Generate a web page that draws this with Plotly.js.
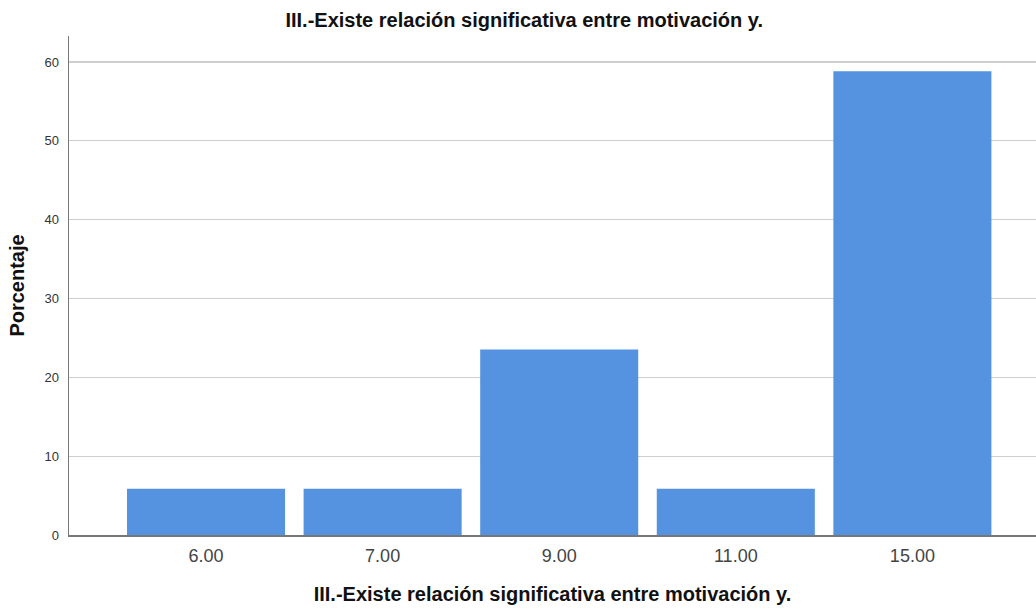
<!DOCTYPE html>
<html>
<head>
<meta charset="utf-8">
<script src="https://cdn.plot.ly/plotly-3.0.1.min.js"></script>
<style>
  html, body { margin: 0; padding: 0; background: #fff; }
  #chart { width: 1036px; height: 610px; }
</style>
</head>
<body>
<div id="chart"></div>
<script>
// valores (porcentaje de casos)
var categorias = ['6.00', '7.00', '9.00', '11.00', '15.00'];
var porcentajes = [5.88, 5.88, 23.53, 5.88, 58.82];
var yTicks = [0, 10, 20, 30, 40, 50, 60];

var titulo = 'III.-Existe relación significativa entre motivación y.';

var barras = {
  x: categorias,
  y: porcentajes,
  type: 'bar',
  marker: { color: '#5592e0', line: { width: 0 } },
  hoverinfo: 'x+y'
};

var layout = {
  width: 1036,
  height: 610,
  margin: { l: 69, r: 0, t: 36, b: 75 },
  paper_bgcolor: '#fff',
  plot_bgcolor: '#fff',
  font: { family: 'Liberation Sans, Arial, sans-serif', color: '#222' },
  title: {
    text: '<b>' + titulo + '</b>',
    font: { size: 20, color: '#111' },
    x: 0.506, xanchor: 'center',
    y: 0.967, yanchor: 'middle'
  },
  bargap: 0.105,
  showlegend: false,
  xaxis: {
    type: 'category',
    range: [-0.776, 4.70],
    showline: true,
    linecolor: '#777',
    linewidth: 1.5,
    showgrid: false,
    ticks: '',
    tickfont: { size: 18, color: '#444' },
    ticklabelstandoff: 4,
    title: { text: '<b>' + titulo + '</b>', font: { size: 20, color: '#111' }, standoff: 22 }
  },
  yaxis: {
    range: [0, 63.3],
    tickvals: yTicks,
    showline: true,
    linecolor: '#777',
    linewidth: 1.5,
    showgrid: true,
    gridcolor: '#cfcfcf',
    gridwidth: 1.2,
    zeroline: false,
    ticks: '',
    tickfont: { size: 13, color: '#333' },
    ticklabelstandoff: 6,
    title: { text: '<b>Porcentaje</b>', font: { size: 20, color: '#111' }, standoff: 14 }
  }
};

Plotly.newPlot('chart', [barras], layout, { displayModeBar: false, staticPlot: true });
</script>
</body>
</html>
